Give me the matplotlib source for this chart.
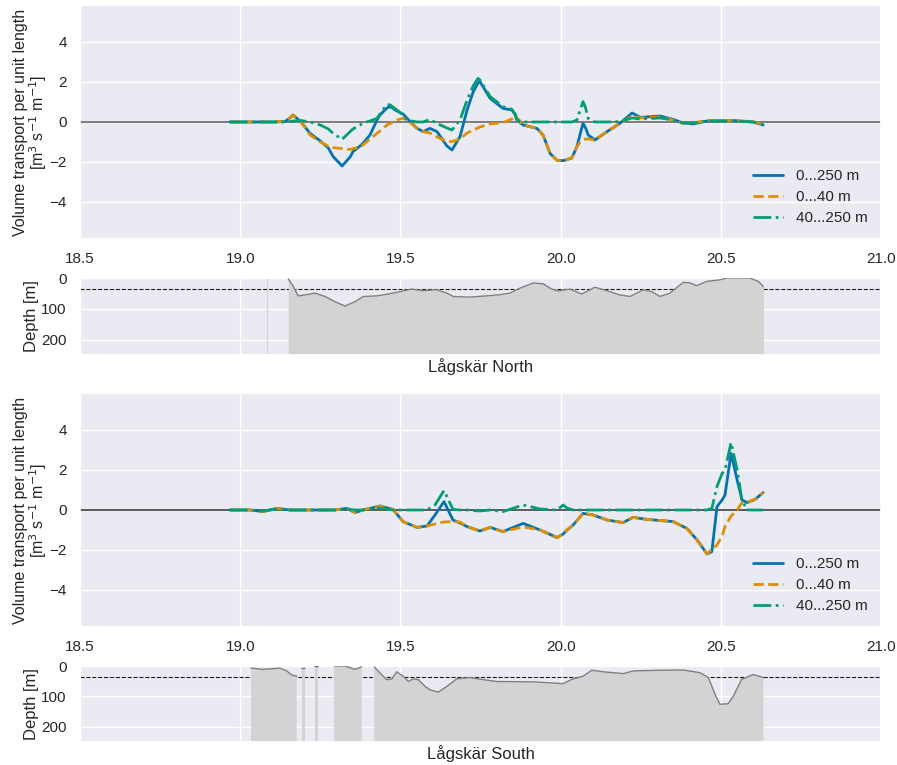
import matplotlib
matplotlib.use("Agg")
import matplotlib.pyplot as plt
import numpy as np
import seaborn as sns

sns.set_theme(style="darkgrid", palette="colorblind")
plt.rcParams['font.family'] = ['Liberation Sans', 'DejaVu Sans']

# ---- Lågskär North: transport (longitude, m3 s-1 m-1) ----
lon_n = [18.968, 19.05, 19.10, 19.14, 19.155, 19.165, 19.19, 19.218, 19.25, 19.275,
         19.29, 19.318, 19.343, 19.352, 19.374, 19.383, 19.405, 19.427, 19.436, 19.458,
         19.468, 19.489, 19.508, 19.521, 19.552, 19.571, 19.592, 19.614, 19.645, 19.661,
         19.686, 19.708, 19.727, 19.742, 19.748, 19.78, 19.82, 19.848, 19.858, 19.864,
         19.883, 19.926, 19.945, 19.967, 19.989, 20.01, 20.035, 20.051, 20.061, 20.07,
         20.078, 20.086, 20.107, 20.145, 20.185, 20.223, 20.248, 20.31, 20.351, 20.379,
         20.413, 20.457, 20.538, 20.6, 20.632]
n_all = [0, 0, 0, 0.02, 0.2, 0.35, 0.0, -0.57, -0.95, -1.3,
         -1.73, -2.2, -1.75, -1.48, -1.2, -1.07, -0.65, 0.1, 0.35, 0.7,
         0.77, 0.55, 0.4, 0.18, -0.32, -0.48, -0.32, -0.48, -1.2, -1.4,
         -0.73, 0.6, 1.5, 1.95, 2.02, 1.18, 0.68, 0.6, 0.4, 0.1,
         -0.15, -0.32, -0.65, -1.57, -1.92, -1.93, -1.8, -1.23, -0.6, -0.07,
         -0.3, -0.65, -0.9, -0.48, -0.07, 0.45, 0.23, 0.3, 0.13, -0.03,
         -0.1, 0.05, 0.07, 0.0, -0.15]
n_top = [0, 0, 0, 0.02, 0.2, 0.35, 0.0, -0.65, -1.0, -1.2,
         -1.28, -1.33, -1.37, -1.33, -1.25, -1.15, -0.85, -0.57, -0.45, -0.15,
         -0.07, 0.1, 0.18, 0.1, -0.32, -0.48, -0.55, -0.75, -0.98, -0.98,
         -0.85, -0.55, -0.4, -0.3, -0.25, -0.1, -0.03, 0.15, 0.35, 0.2,
         -0.15, -0.32, -0.65, -1.57, -1.92, -1.93, -1.8, -1.23, -1.0, -0.9,
         -0.85, -0.85, -0.9, -0.48, -0.07, 0.3, 0.2, 0.25, 0.1, -0.05,
         -0.05, 0.08, 0.07, 0.02, -0.12]
n_deep = [0, 0, 0, 0, 0.02, 0.05, 0.07, 0.0, -0.15, -0.35,
          -0.57, -0.87, -0.48, -0.35, -0.15, -0.05, 0.05, 0.18, 0.4, 0.88,
          0.85, 0.6, 0.35, 0.1, 0.0, 0.0, 0.13, -0.07, -0.3, -0.4,
          0.1, 1.1, 1.8, 2.18, 2.1, 1.27, 0.77, 0.63, 0.35, 0.1,
          0.0, 0.0, 0.0, 0.0, 0.0, 0.0, 0.0, 0.1, 0.6, 1.02,
          0.7, 0.18, 0.0, 0.0, 0.02, 0.2, 0.15, 0.2, 0.1, -0.05,
          -0.05, 0.05, 0.05, 0.0, -0.1]

# ---- Lågskär North: bottom depth (m) ----
dlon_n = [19.150, 19.166, 19.181, 19.202, 19.233, 19.265, 19.296, 19.327, 19.358, 19.384,
          19.426, 19.462, 19.499, 19.535, 19.571, 19.613, 19.645, 19.665, 19.717, 19.769,
          19.811, 19.842, 19.873, 19.915, 19.946, 19.972, 19.993, 20.029, 20.066, 20.107,
          20.144, 20.185, 20.217, 20.258, 20.284, 20.310, 20.341, 20.383, 20.404, 20.425,
          20.456, 20.497, 20.518, 20.591, 20.617, 20.633]
depth_n = [3, 28, 58, 55, 49, 60, 77, 91, 77, 60,
           58, 52, 44, 36, 41, 38, 49, 60, 62, 58,
           54, 49, 33, 16, 19, 36, 42, 36, 52, 30,
           41, 55, 60, 38, 44, 60, 49, 14, 16, 25,
           11, 6, 0, 0, 11, 28]
gap_n = [19.085]

# ---- Lågskär South: transport ----
lon_s = [18.968, 19.03, 19.071, 19.115, 19.155, 19.296, 19.333, 19.358, 19.383, 19.436,
         19.477, 19.508, 19.552, 19.583, 19.608, 19.636, 19.664, 19.686, 19.708, 19.748,
         19.78, 19.82, 19.883, 19.936, 19.989, 20.008, 20.02, 20.039, 20.07, 20.101,
         20.145, 20.195, 20.226, 20.27, 20.351, 20.394, 20.426, 20.457, 20.472, 20.488,
         20.504, 20.513, 20.532, 20.551, 20.566, 20.582, 20.607, 20.632]
s_all = [0, 0, -0.08, 0.08, 0, 0, 0.08, -0.13, 0, 0.2,
         0.03, -0.58, -0.87, -0.8, -0.25, 0.42, -0.5, -0.65, -0.83, -1.05,
         -0.87, -1.08, -0.67, -1.0, -1.38, -1.2, -1.0, -0.75, -0.17, -0.25,
         -0.5, -0.63, -0.37, -0.47, -0.58, -0.92, -1.5, -2.2, -2.08, 0.17,
         0.5, 0.75, 2.83, 1.5, 0.5, 0.37, 0.53, 0.87]
s_top = [0, 0, -0.08, 0.08, 0, 0, 0.08, -0.13, 0, 0.2,
         0.03, -0.58, -0.87, -0.8, -0.7, -0.6, -0.58, -0.6, -0.83, -1.05,
         -0.87, -1.08, -0.85, -1.0, -1.38, -1.2, -1.0, -0.75, -0.17, -0.25,
         -0.5, -0.63, -0.37, -0.47, -0.58, -0.92, -1.5, -2.2, -1.95, -1.75,
         -1.3, -0.83, -0.3, 0.0, 0.37, 0.4, 0.53, 0.87]
s_deep = [0, 0, -0.05, 0.05, 0, 0, 0.05, 0, 0, 0.1,
          0, 0, 0, 0, 0.25, 0.97, 0.03, 0, 0, -0.05,
          0, -0.08, 0.25, 0.05, 0.0, 0.25, 0.1, 0, 0, 0,
          0, 0, 0, 0, 0, 0, 0, 0, 0.08, 1.17,
          1.83, 2.0, 3.37, 2.0, 0.5, 0, 0, 0]

# ---- Lågskär South: bottom depth (NaN = no bottom data) ----
dlon_s = [19.034, 19.071, 19.124, 19.145, 19.161, 19.176, np.nan,
          19.192, 19.202, np.nan,
          19.233, 19.244, np.nan,
          19.293, 19.327, 19.358, 19.379, np.nan,
          19.418, 19.442, 19.457, 19.473, 19.488, 19.509, 19.525, 19.540, 19.556, 19.577,
          19.592, 19.618, 19.645, 19.676, 19.717, 19.759, 19.801, 19.915, 20.008, 20.035,
          20.071, 20.097, 20.133, 20.196, 20.227, 20.310, 20.383, 20.435, 20.461, 20.482,
          20.497, 20.523, 20.539, 20.565, 20.601, 20.633]
depth_s = [7, 11, 7, 16, 30, 33, np.nan,
           8, 8, np.nan,
           2, 2, np.nan,
           0, 0, 11, 3, np.nan,
           3, 29, 45, 43, 19, 34, 51, 42, 45, 67,
           78, 86, 67, 42, 38, 45, 51, 52, 58, 44,
           33, 14, 19, 25, 16, 14, 13, 22, 38, 93,
           126, 124, 99, 44, 28, 38]

layer_depth = 35
labels = ["0...250 m", "0...40 m", "40...250 m"]
colors = sns.color_palette("colorblind")

fig = plt.figure(figsize=(8.97, 7.65), dpi=100)
ax1 = fig.add_axes([0.0892, 0.6876, 0.8930, 0.3059])
ax2 = fig.add_axes([0.0892, 0.5359, 0.8930, 0.1007])
ax3 = fig.add_axes([0.0892, 0.1804, 0.8930, 0.3059])
ax4 = fig.add_axes([0.0892, 0.0301, 0.8930, 0.0993])

xt = [18.5, 19.0, 19.5, 20.0, 20.5, 21.0]


def transport(ax, x, a, t, d, zc):
    ax.axhline(0, color=zc, lw=1.3, zorder=1)
    ax.plot(x, a, color=colors[0], lw=2, ls='-', label=labels[0], zorder=3)
    ax.plot(x, t, color=colors[1], lw=2, ls='--', label=labels[1], zorder=3)
    ax.plot(x, d, color=colors[2], lw=2, ls='-.', label=labels[2], zorder=3)
    ax.set_xlim(18.5, 21.0)
    ax.set_ylim(-5.85, 5.85)
    ax.set_xticks(xt)
    ax.set_yticks([-4, -2, 0, 2, 4])
    ax.tick_params(labelsize=11)
    ax.set_ylabel("Volume transport per unit length\n[m$^3$ s$^{-1}$ m$^{-1}$]",
                  fontsize=11.5, labelpad=0, linespacing=1.0)
    ax.legend(loc="lower right", frameon=False, fontsize=11,
              borderaxespad=0.5, labelspacing=0.45)


def bottom(ax, x, dep, name):
    ax.fill_between(x, dep, 250, color='lightgray', lw=0, zorder=2)
    ax.plot(x, dep, color='gray', lw=1, zorder=3)
    ax.axhline(layer_depth, color='k', ls='--', lw=0.8, zorder=1)
    ax.set_xlim(18.5, 21.0)
    ax.set_ylim(250, 0)
    ax.set_xticks(xt)
    ax.tick_params(labelsize=11, labelbottom=False)
    ax.set_yticks([0, 100, 200])
    ax.set_ylabel("Depth [m]", fontsize=12, labelpad=2)
    ax.set_xlabel(name, fontsize=12, labelpad=2)


transport(ax1, lon_n, n_all, n_top, n_deep, '0.45')
bottom(ax2, dlon_n, depth_n, "Lågskär North")
for g in gap_n:
    ax2.axvline(g, color='lightgray', lw=0.8, zorder=2)

transport(ax3, lon_s, s_all, s_top, s_deep, '0.3')
bottom(ax4, dlon_s, depth_s, "Lågskär South")

fig.savefig("out.png", dpi=100)
